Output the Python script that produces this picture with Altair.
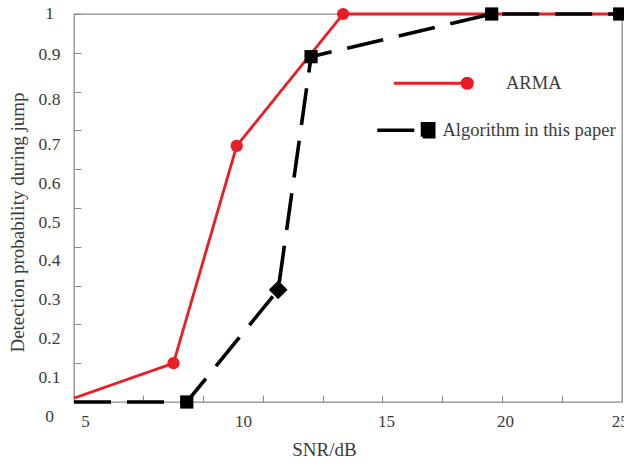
import altair as alt
import pandas as pd

# ---- data ----
series_names = ["ARMA", "Algorithm in this paper"]
snr_arma = [4.65, 7.8, 9.8, 13.5, 19.45, 25.0]
pd_arma = [0.01, 0.10, 0.66, 1.0, 1.0, 1.0]
snr_alg = [4.65, 8.22, 11.23, 12.38, 19.44, 25.0]
pd_alg = [0.0, 0.0, 0.289, 0.89, 1.0, 1.0]
x_tick_labels = [5, 10, 15, 20, 25]
y_tick_labels = [0, 0.1, 0.2, 0.3, 0.4, 0.5, 0.6, 0.7, 0.8, 0.9, 1]
minor_x_ticks = [1, 2, 3, 4, 5, 6, 7, 8]

rows = []
for s, xs, ys in [(series_names[0], snr_arma, pd_arma), (series_names[1], snr_alg, pd_alg)]:
    for x, y in zip(xs, ys):
        rows.append({"series": s, "snr": x, "pd": y})
df = pd.DataFrame(rows)
tick_df = pd.DataFrame({"k": minor_x_ticks})

RED = "#ea1c24"
TXT = "#3a3a3a"
GRAY = "#8a8a8a"
FONT = "Liberation Serif"

x_enc = alt.X(
    "snr:Q",
    scale=alt.Scale(domain=[4.65, 5, 10, 15, 20, 25.1], range=[0, 11, 169, 312, 431, 548],
                    zero=False, nice=False),
    axis=alt.Axis(orient="bottom", values=x_tick_labels, format="d", ticks=False, tickSize=0,
                  domain=False, grid=False, labelPadding=19, labelBaseline="middle",
                  labelFlush=False, labelFontSize=17, title="SNR/dB", titleX=250, titleY=47,
                  titleBaseline="middle", titleAlign="center"),
)
y_enc = alt.Y(
    "pd:Q",
    scale=alt.Scale(domain=[0, 1], nice=False),
    axis=alt.Axis(
        values=y_tick_labels, format="~g", offset=-7, domain=False, grid=False,
        tickSize=7, tickColor=GRAY, tickWidth=1, labelAlign="center", labelPadding=25,
        labelBaseline="middle", labelFontSize=17.5,
        labelOffset={"condition": [{"test": "datum.value > 0.95", "value": -1},
                                   {"test": "datum.value > 0.85", "value": 2},
                                   {"test": "datum.value > 0.75", "value": 8}],
                     "value": 14},
        title="Detection probability during jump", titleX=-64, titleY=208,
        titleAngle=270, titleBaseline="middle", titleAlign="center"),
)

legend_alg = alt.Legend(
    title=None, values=[series_names[1]], orient="none", legendX=344, legendY=107,
    symbolType="M-50,0L0,0M-6.5,-6.5h13v13h-13Z", symbolSize=4, symbolStrokeWidth=3.5,
    symbolStrokeColor="black", symbolFillColor="black", labelOffset=6,
    labelFont=FONT, labelFontSize=18.5, labelColor=TXT, labelLimit=400, padding=0,
)
legend_arma = alt.Legend(
    title=None, values=[series_names[0]], orient="top-right", offset=60,
    symbolType="M-72,-0.2H-4V0.2H-72ZM-5.2,0A5.2,5.2,0,1,1,5.2,0A5.2,5.2,0,1,1,-5.2,0Z",
    symbolSize=4, symbolFillColor=RED,
    symbolOpacity=1, labelOffset=29.5,
    labelFont=FONT, labelFontSize=18.5, labelColor=TXT, labelLimit=400, padding=0,
)

color_scale = alt.Scale(domain=series_names, range=[RED, "black"])

lines = alt.Chart(df).mark_line(strokeCap="butt").encode(
    x=x_enc,
    y=y_enc,
    color=alt.Color("series:N", scale=color_scale, legend=legend_arma),
    strokeDash=alt.StrokeDash("series:N",
                              scale=alt.Scale(domain=[series_names[1], series_names[0]],
                                              range=[[37, 16], [1, 0]]),
                              legend=legend_alg),
    strokeWidth=alt.StrokeWidth("series:N",
                                scale=alt.Scale(domain=series_names, range=[2.8, 3.6]),
                                legend=None),
    order="snr:Q",
)

arma_points = (
    alt.Chart(df)
    .transform_filter(alt.datum.series == series_names[0])
    .transform_filter("datum.snr > 4.7")
    .mark_point(filled=True, opacity=1, shape="circle", size=150, color=RED)
    .encode(x=x_enc, y=y_enc)
)
alg_points = (
    alt.Chart(df)
    .transform_filter(alt.datum.series == series_names[1])
    .transform_filter("datum.snr > 4.7")
    .mark_point(filled=True, opacity=1, shape="square", size=175, color="black")
    .encode(x=x_enc, y=y_enc,
            angle=alt.condition("datum.pd > 0.2 && datum.pd < 0.5", alt.value(45), alt.value(0)))
)

minor_ticks = alt.Chart(tick_df).mark_point(opacity=0).encode(
    x=alt.X("k:Q", scale=alt.Scale(domain=[-0.15, 9], zero=False, nice=False),
            axis=alt.Axis(orient="bottom", values=minor_x_ticks, offset=-7, domain=False,
                          labels=False, ticks=True, tickSize=7, tickColor=GRAY, tickWidth=1,
                          grid=False, title=None)),
)

chart = (
    alt.layer(alt.layer(lines, arma_points, alg_points), minor_ticks)
    .resolve_scale(x="independent")
    .properties(width=548, height=388,
                padding={"left": 74, "top": 14, "right": 2, "bottom": 61},
                autosize=alt.AutoSizeParams(type="none"))
    .configure_view(stroke=GRAY, strokeWidth=1.3)
    .configure_axis(labelFont=FONT, titleFont=FONT, labelColor=TXT, titleColor=TXT,
                    titleFontSize=19, titleFontWeight="normal")
)

chart.save("out.html", embed_options={"renderer": "svg", "actions": False})
